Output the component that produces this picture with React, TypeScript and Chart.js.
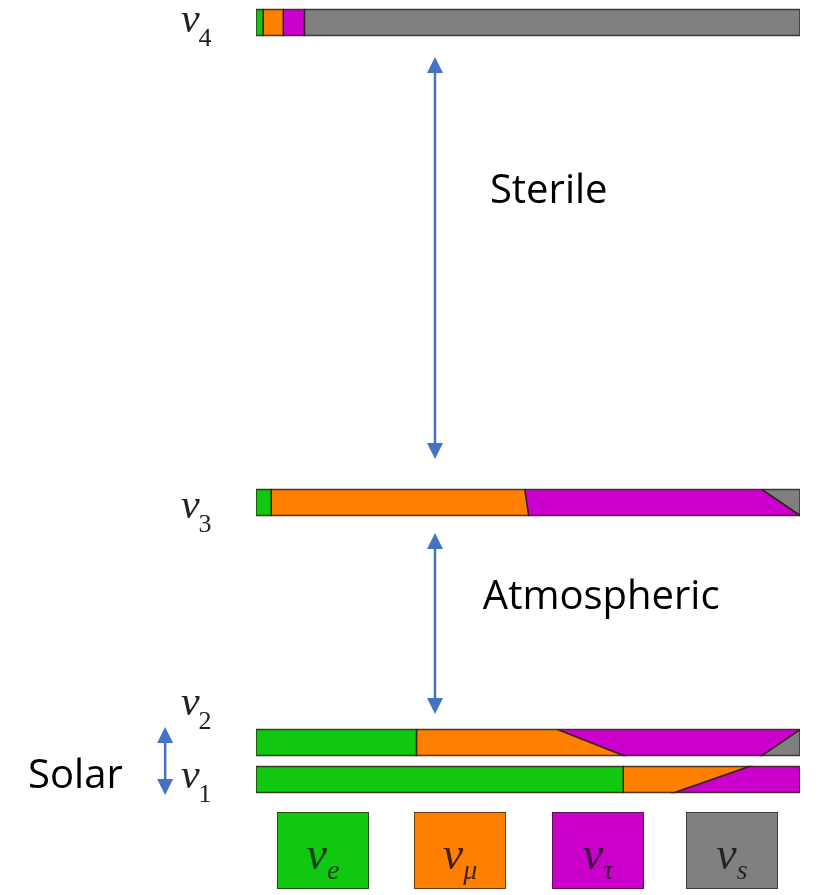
import React, { useEffect, useRef } from 'react';
import { Chart, registerables } from 'chart.js';

Chart.register(...registerables);

// ---- data -------------------------------------------------------------
const stateSubs = ['1', '2', '3', '4'];
// schematic mass level of each eigenstate (arbitrary units, 0..100)
const stateLevel = [12.9, 17.04, 43.85, 97.49];
const barHalf = 1.45;

const flavorSubs = ['e', 'μ', 'τ', 's'];
const flavorColors = ['#10C810', '#FF8000', '#CC00CC', '#808080'];
const flavorTextColors = ['#0B400B', '#472200', '#3A0644', '#242424'];

// flavour content along the top edge and the bottom edge of each bar (ν1..ν4)
const topFrac = [
  [0.675, 0.231, 0.094, 0.0],
  [0.295, 0.259, 0.446, 0.0],
  [0.028, 0.466, 0.436, 0.07],
  [0.013, 0.037, 0.039, 0.911],
];
const bottomFrac = [
  [0.675, 0.094, 0.231, 0.0],
  [0.295, 0.38, 0.255, 0.07],
  [0.028, 0.473, 0.499, 0.0],
  [0.013, 0.037, 0.039, 0.911],
];

// mass splitting arrows: x (fraction), from level, to level
const arrowLabels = ['Sterile', 'Atmospheric', 'Solar'];
const arrowX = [0.329, 0.329, -0.167];
const arrowFrom = [93.63, 40.45, 18.77];
const arrowTo = [48.72, 20.22, 11.17];

// ---- layout constants -------------------------------------------------
const W = 818;
const H = 895;
const labelPos = [
  { x: 0.43, y: 77.32 },
  { x: 0.417, y: 31.96 },
  { x: -0.419, y: 11.96 },
];
const stateLabelX = -0.138;
const stateLabelY = [11.96, 20.11, 42.12, 96.42];
const legendLeft = [277, 414, 552, 686];

function cumulative(arr: number[]) {
  const out = [0];
  let s = 0;
  for (const v of arr) {
    s += v;
    out.push(s);
  }
  return out;
}

function buildDatasets() {
  const ds: any[] = [];
  stateLevel.forEach((lvl, si) => {
    const ct = cumulative(topFrac[si]);
    const cb = cumulative(bottomFrac[si]);
    const yt = lvl + barHalf;
    const yb = lvl - barHalf;
    for (let f = 0; f < 4; f++) {
      if (topFrac[si][f] <= 0 && bottomFrac[si][f] <= 0) continue;
      ds.push({
        label: `ν${stateSubs[si]} ν${flavorSubs[f]}`,
        data: [
          { x: ct[f], y: yt },
          { x: ct[f + 1], y: yt },
          { x: cb[f + 1], y: yb },
          { x: cb[f], y: yb },
          { x: ct[f], y: yt },
        ],
        fill: 'shape',
        backgroundColor: flavorColors[f],
        borderColor: 'rgba(45,30,20,0.85)',
        borderWidth: 1.5,
        pointRadius: 0,
        tension: 0,
      });
    }
  });
  return ds;
}

const overlayPlugin = {
  id: 'overlay',
  afterDatasetsDraw(chart: any) {
    const { ctx, scales } = chart;
    const xs = scales.x;
    const ys = scales.y;
    ctx.save();
    // arrows
    ctx.strokeStyle = '#4472C4';
    ctx.fillStyle = '#4472C4';
    ctx.lineWidth = 2.5;
    const headL = 16;
    const headW = 8;
    for (let i = 0; i < arrowX.length; i++) {
      const px = xs.getPixelForValue(arrowX[i]);
      const p1 = ys.getPixelForValue(arrowFrom[i]);
      const p2 = ys.getPixelForValue(arrowTo[i]);
      ctx.beginPath();
      ctx.moveTo(px, p1 + headL - 2);
      ctx.lineTo(px, p2 - headL + 2);
      ctx.stroke();
      ctx.beginPath();
      ctx.moveTo(px, p1);
      ctx.lineTo(px - headW, p1 + headL);
      ctx.lineTo(px + headW, p1 + headL);
      ctx.closePath();
      ctx.fill();
      ctx.beginPath();
      ctx.moveTo(px, p2);
      ctx.lineTo(px - headW, p2 - headL);
      ctx.lineTo(px + headW, p2 - headL);
      ctx.closePath();
      ctx.fill();
    }
    // arrow labels
    ctx.fillStyle = '#000';
    ctx.font = '40px "Open Sans"';
    ctx.textBaseline = 'alphabetic';
    ctx.textAlign = 'left';
    for (let i = 0; i < arrowLabels.length; i++) {
      ctx.fillText(arrowLabels[i], xs.getPixelForValue(labelPos[i].x), ys.getPixelForValue(labelPos[i].y));
    }
    // state labels
    for (let i = 0; i < stateSubs.length; i++) {
      const px = xs.getPixelForValue(stateLabelX);
      const py = ys.getPixelForValue(stateLabelY[i]);
      ctx.fillStyle = '#222';
      ctx.font = 'italic 42px "Liberation Serif"';
      ctx.fillText('ν', px, py);
      const w = ctx.measureText('ν').width;
      ctx.font = '26px "Liberation Serif"';
      ctx.fillText(stateSubs[i], px + w - 1, py + 14);
    }
    ctx.restore();
  },
};

export default function App() {
  const ref = useRef<HTMLCanvasElement | null>(null);
  useEffect(() => {
    if (!ref.current) return;
    const chart = new Chart(ref.current, {
      type: 'line',
      data: { datasets: buildDatasets() },
      options: {
        responsive: false,
        maintainAspectRatio: false,
        animation: false,
        layout: { padding: { left: 256, right: 18, top: 0, bottom: 0 } },
        scales: {
          x: { type: 'linear', min: 0, max: 1, display: false },
          y: { type: 'linear', min: 0, max: 100, display: false },
        },
        plugins: {
          legend: { display: false },
          tooltip: { enabled: false },
        },
      },
      plugins: [overlayPlugin],
    } as any);
    return () => chart.destroy();
  }, []);

  return (
    <div style={{ position: 'absolute', left: 0, top: 0, width: W, height: H, background: '#fff', overflow: 'hidden' }}>
      <canvas ref={ref} width={W} height={H} style={{ display: 'block' }} />
      {flavorSubs.map((s, i) => (
        <div
          key={s}
          style={{
            position: 'absolute',
            left: legendLeft[i],
            top: 812,
            width: 92,
            height: 77,
            boxSizing: 'border-box',
            background: flavorColors[i],
            border: '1px solid rgba(40,30,20,0.7)',
            display: 'flex',
            alignItems: 'center',
            justifyContent: 'center',
            paddingTop: 6,
            fontFamily: '"Liberation Serif", serif',
            fontStyle: 'italic',
            color: flavorTextColors[i],
          }}
        >
          <span style={{ fontSize: 46, lineHeight: 1 }}>
            ν<sub style={{ fontSize: 28, verticalAlign: 'baseline', position: 'relative', top: 10 }}>{s}</sub>
          </span>
        </div>
      ))}
    </div>
  );
}
